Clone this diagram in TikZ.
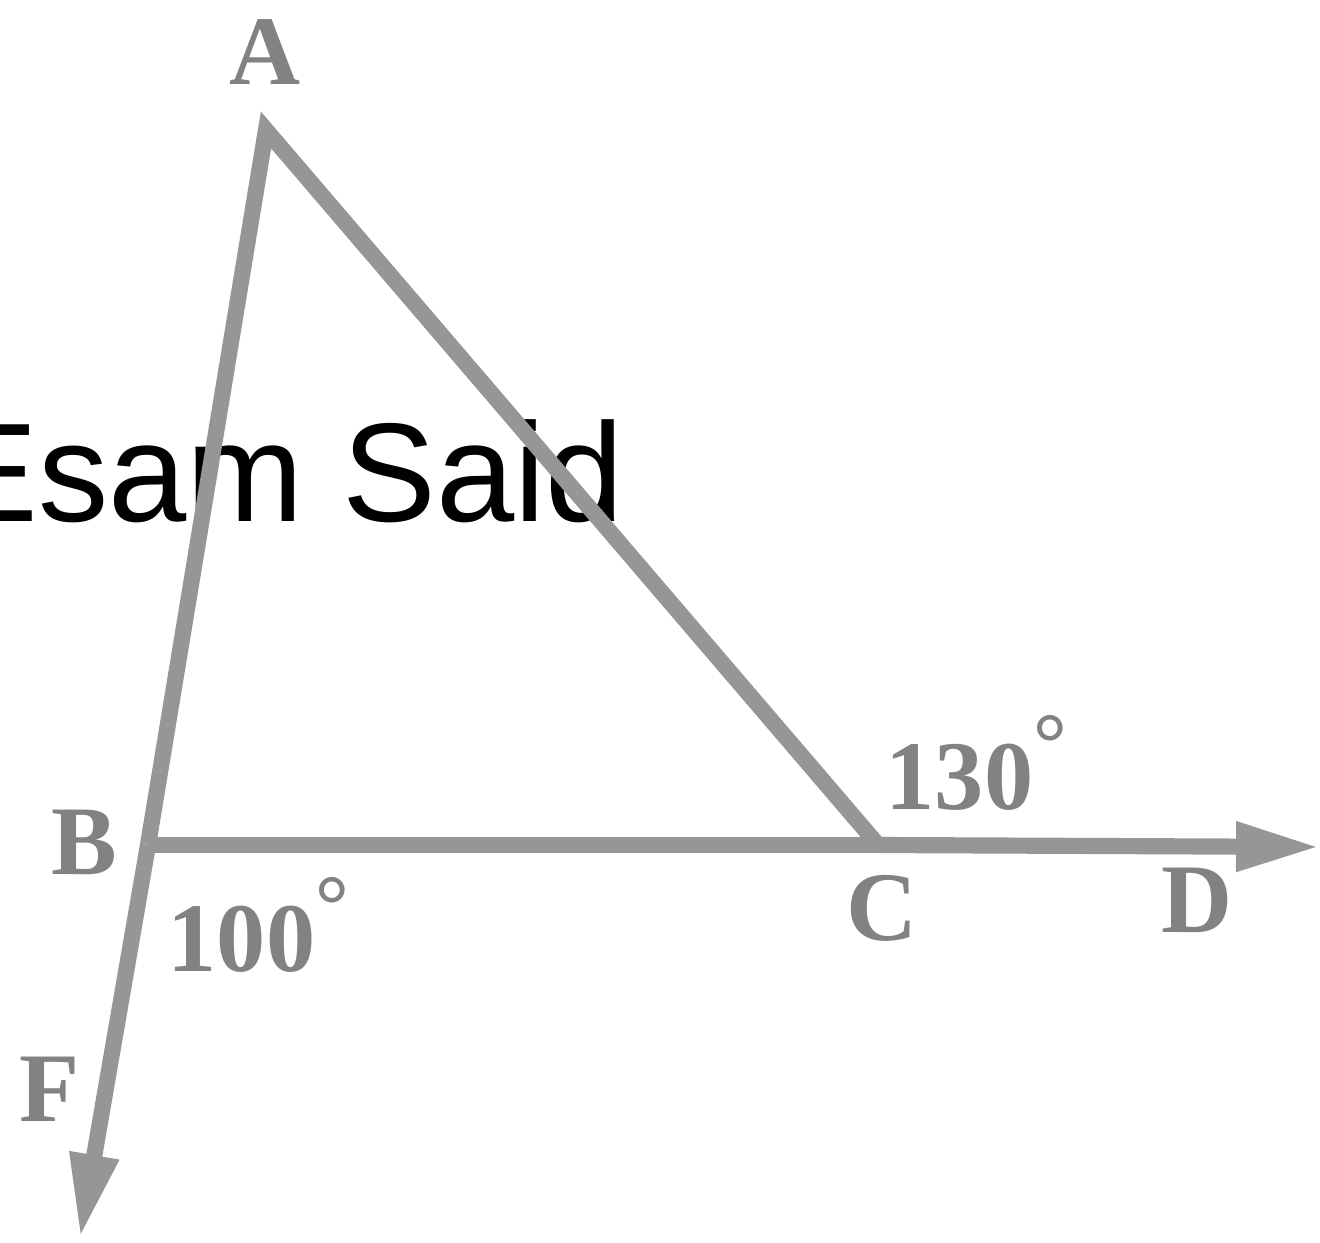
\documentclass[tikz,border=0pt]{standalone}
\usepackage{fontspec}
\setmainfont{Liberation Serif}
\newfontfamily\marksans{Liberation Sans}
\usetikzlibrary{arrows.meta}

\definecolor{linegray}{RGB}{150,150,150}
\definecolor{labelgray}{RGB}{130,130,130}

\newcommand{\degmark}{\raisebox{0.38cm}{\fontsize{24}{24}\selectfont\bfseries °}}

\begin{document}
\begin{tikzpicture}[
    side/.style={draw=linegray, line width=4.6pt, line join=miter},
    ray/.style={side, -{Triangle[length=8.4mm, width=4.6mm]}},
    ptlabel/.style={text=labelgray, font=\fontsize{28}{30}\selectfont\bfseries, inner sep=0pt},
    anglabel/.style={ptlabel, anchor=base west},
    wmark/.style={font=\marksans\fontsize{40}{44}\selectfont, inner sep=0pt, anchor=base east}
]
\useasboundingbox (0,0) rectangle (13.2,12.42);

% Schriftzug im Hintergrund
\node[wmark] (wm) at (6.25,7.20) {Esam Said};

% Punkte
\coordinate (A) at (2.66,11.12);
\coordinate (B) at (1.48,3.97);
\coordinate (C) at (8.78,3.97);
\coordinate (D) at (13.2,3.95);
\coordinate (F) at (0.80,0.04);

% Seiten und Strahlen
\draw[side] (C) -- (A) -- (B);
\draw[side] (B) -- (C);
\draw[ray] (C) -- (D);
\draw[ray] (B) -- (F);

% Beschriftungen
\node[ptlabel] (lA) at (2.65,11.90) {A};
\node[ptlabel] (lB) at (0.84,4.00) {B};
\node[ptlabel] (lC) at (8.82,3.34) {C};
\node[ptlabel] (lD) at (11.97,3.42) {D};
\node[ptlabel] (lF) at (0.50,1.53) {F};
\node[anglabel] (a100) at (1.67,2.70) {100\degmark};
\node[anglabel] (a130) at (8.85,4.32) {130\degmark};

\end{tikzpicture}
\end{document}
